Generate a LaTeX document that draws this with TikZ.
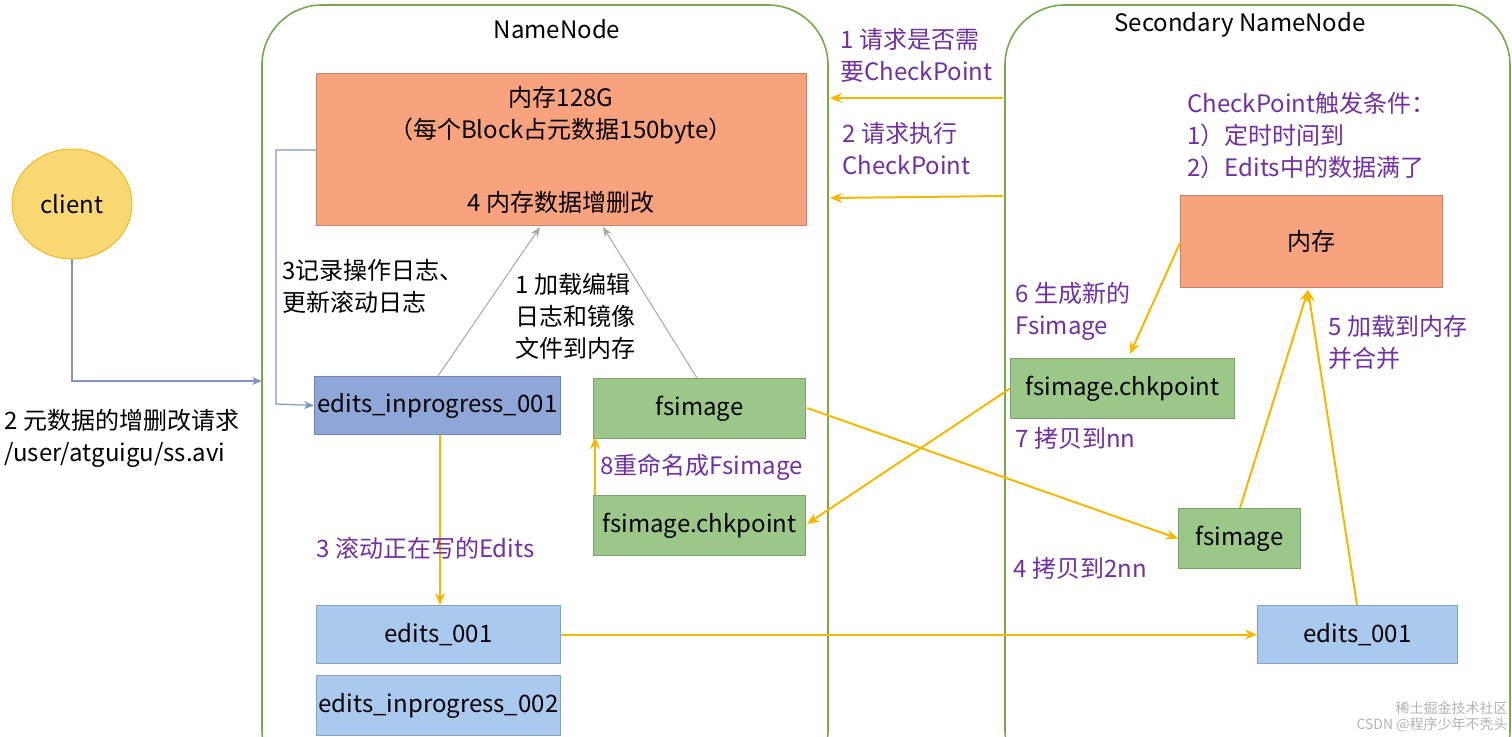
\documentclass[tikz,border=0pt]{standalone}
\usepackage{fontspec}
\setmainfont{Noto Sans CJK SC}
\usetikzlibrary{arrows.meta,shapes.geometric}
\definecolor{pur}{HTML}{7030A0}
\definecolor{yel}{HTML}{F5B800}
\definecolor{grn}{HTML}{9BC888}
\definecolor{org}{HTML}{F8A27E}
\definecolor{blu}{HTML}{A9C9EE}
\definecolor{blu2}{HTML}{8FA6D8}
\definecolor{frame}{HTML}{77A94F}
\tikzset{
 x=0.5pt,y=-0.5pt,
 every node/.style={font=\fontsize{12}{16}\selectfont},
 cont/.style={draw=frame,line width=0.8pt,rounded corners=30pt},
 box/.style={draw=#1!80!black,line width=0.5pt,fill=#1,anchor=north west,inner sep=0pt},
 ya/.style={draw=yel,line width=1pt,-{Stealth[length=6pt,width=5pt]}},
 ga/.style={draw=gray!70,line width=0.5pt,-{Stealth[length=5pt,width=4pt]}},
 ba/.style={draw=blu2!90!black,line width=0.6pt,-{Stealth[length=5pt,width=4pt]}},
 pl/.style={text=pur,align=left,anchor=north west,inner sep=0pt},
 bl/.style={align=left,anchor=north west,inner sep=0pt},
}
\begin{document}
\begin{tikzpicture}
\useasboundingbox (0,0) rectangle (1512,736);
\begin{scope}
\clip (0,0) rectangle (1512,736);
\draw[cont] (262,5) rectangle (828,790);
\draw[cont] (1005,5) rectangle (1510,790);
\end{scope}
\node (nnt) at (557,29) {NameNode};
\node (snt) at (1240,25) {Secondary NameNode};
\node (cl) [ellipse,draw=yel!80!orange,fill=yel!55,minimum width=60pt,minimum height=55pt] at (72,204) {client};
\node (mem) [box=org,minimum width=245pt,minimum height=76pt] at (316,73) {};
\node at (561,97) {内存128G};
\node at (561,131) {（每个Block占元数据150byte）};
\node at (561,202) {4 内存数据增删改};
\node (ei1) [box=blu2,minimum width=123pt,minimum height=29pt] at (314,376) {};
\node at (ei1.center) {edits\_inprogress\_001};
\node (fs) [box=grn,minimum width=106pt,minimum height=30pt] at (593,378) {};
\node at (fs.center) {fsimage};
\node (fc) [box=grn,minimum width=106pt,minimum height=30pt] at (593,495) {};
\node at (fc.center) {fsimage.chkpoint};
\node (e1) [box=blu,minimum width=122pt,minimum height=29pt] at (316,605) {};
\node at (e1.center) {edits\_001};
\node (ei2) [box=blu,minimum width=122pt,minimum height=30pt] at (316,675) {};
\node at (ei2.center) {edits\_inprogress\_002};
\node (smem) [box=org,minimum width=131pt,minimum height=46pt] at (1180,195) {};
\node at (smem.center) {内存};
\node (sfc) [box=grn,minimum width=112pt,minimum height=30pt] at (1010,358) {};
\node at (sfc.center) {fsimage.chkpoint};
\node (sfs) [box=grn,minimum width=61pt,minimum height=30pt] at (1178,508) {};
\node at (sfs.center) {fsimage};
\node (se1) [box=blu,minimum width=100pt,minimum height=29pt] at (1257,605) {};
\node at (se1.center) {edits\_001};
% arrows
\coordinate (s1) at (1003,98); \coordinate (m1) at (830,98);
\draw[ya] (s1) -- (m1);
\coordinate (s2) at (1003,196); \coordinate (m2) at (830,198);
\draw[ya] (s2) -- (m2);
\draw[ba] (cl.south) |- (262,381);
\draw[ba] (316,150) -- (276,150) -- (276,404) -- (ei1.west);
\draw[ga] (438,376) -- (540,227);
\draw[ga] (697,378) -- (603,227);
\draw[ya] (440,435) -- (440,605);
\draw[ya] (595,495) -- (595,437);
\draw[ya] (sfc.west) -- (807,524);
\draw[ya] (807,408) -- (sfs.west);
\draw[ya] (e1.east) -- (se1.west);
\draw[ya] (1180,243) -- (1130,354);
\draw[ya] (1240,508) -- (1308,290);
\draw[ya] (1357,605) -- (1308,290);
% labels
\node[pl] at (840,28) {1 请求是否需\\要CheckPoint};
\node[pl] at (842,122) {2 请求执行\\CheckPoint};
\node[pl] at (1187,92) {CheckPoint触发条件：\\1）定时时间到\\2）Edits中的数据满了};
\node[bl] at (4,409) {2 元数据的增删改请求\\/user/atguigu/ss.avi};
\node[bl] at (282,259) {3记录操作日志、\\更新滚动日志};
\node[bl] at (515,273) {1 加载编辑\\日志和镜像\\文件到内存};
\node[pl] at (316,537) {3 滚动正在写的Edits};
\node[pl] at (600,454) {8重命名成Fsimage};
\node[pl] at (1015,427) {7 拷贝到nn};
\node[pl] at (1013,557) {4 拷贝到2nn};
\node[pl] at (1015,282) {6 生成新的\\Fsimage};
\node[pl] at (1328,315) {5 加载到内存\\并合并};
\node[bl,text=gray!60,font=\fontsize{7}{8}\selectfont,align=right,anchor=south east] at (1508,732) {稀土掘金技术社区\\CSDN @程序少年不秃头};
\end{tikzpicture}
\end{document}
